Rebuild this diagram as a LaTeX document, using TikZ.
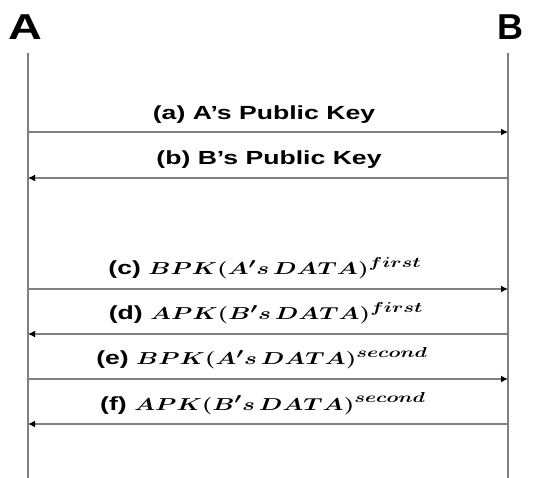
\documentclass[tikz,border=0pt]{standalone}
\usepackage{fontspec}
\usepackage{amsmath}
\usepackage{bm}
\setmainfont{Liberation Sans}
\usetikzlibrary{arrows.meta}
\newcommand{\wlab}[1]{\scalebox{1.4}[1]{#1}}
\tikzset{
  life/.style={draw=gray, line width=2.6pt},
  msg/.style={draw=gray, line width=2.6pt, -{Latex[length=7pt,width=7pt,black]}},
  lab/.style={anchor=base, inner sep=0pt, font=\fontsize{19}{22}\selectfont\bfseries},
  party/.style={anchor=base, inner sep=0pt, font=\fontsize{36}{40}\selectfont\bfseries}
}
\begin{document}
\begin{tikzpicture}[x=1pt,y=-1pt]
\useasboundingbox (0,0) rectangle (533,478);
% parties
\node[party] (A) at (25,40) {\scalebox{1.3}[1]{A}};
\node[party] (B) at (510,40) {B};
% lifelines
\coordinate (At) at (28,53);
\coordinate (Ab) at (28,478);
\coordinate (Bt) at (508,53);
\coordinate (Bb) at (508,478);
\draw[life] (At) -- (Ab);
\draw[life] (Bt) -- (Bb);
% message end points
\foreach \n/\y in {a/132,b/178,c/289,d/334,e/379,f/424}{
  \coordinate (A\n) at (28,\y);
  \coordinate (B\n) at (508,\y);
}
\draw[msg] (Aa) -- (Ba);
\draw[msg] (Bb) -- (Ab);
\draw[msg] (Ac) -- (Bc);
\draw[msg] (Bd) -- (Ad);
\draw[msg] (Ae) -- (Be);
\draw[msg] (Bf) -- (Af);
% labels
\node[lab] (la) at (264,120) {\wlab{(a) A's Public Key}};
\node[lab] (lb) at (269,165) {\wlab{(b) B's Public Key}};
\node[lab] (lc) at (265,275) {\wlab{(c) $\bm{BPK(A's\,DATA)^{first}}$}};
\node[lab] (ld) at (266,320) {\wlab{(d) $\bm{APK(B's\,DATA)^{first}}$}};
\node[lab] (le) at (262,365) {\wlab{(e) $\bm{BPK(A's\,DATA)^{second}}$}};
\node[lab] (lf) at (263,410) {\wlab{(f) $\bm{APK(B's\,DATA)^{second}}$}};
\end{tikzpicture}
\end{document}
